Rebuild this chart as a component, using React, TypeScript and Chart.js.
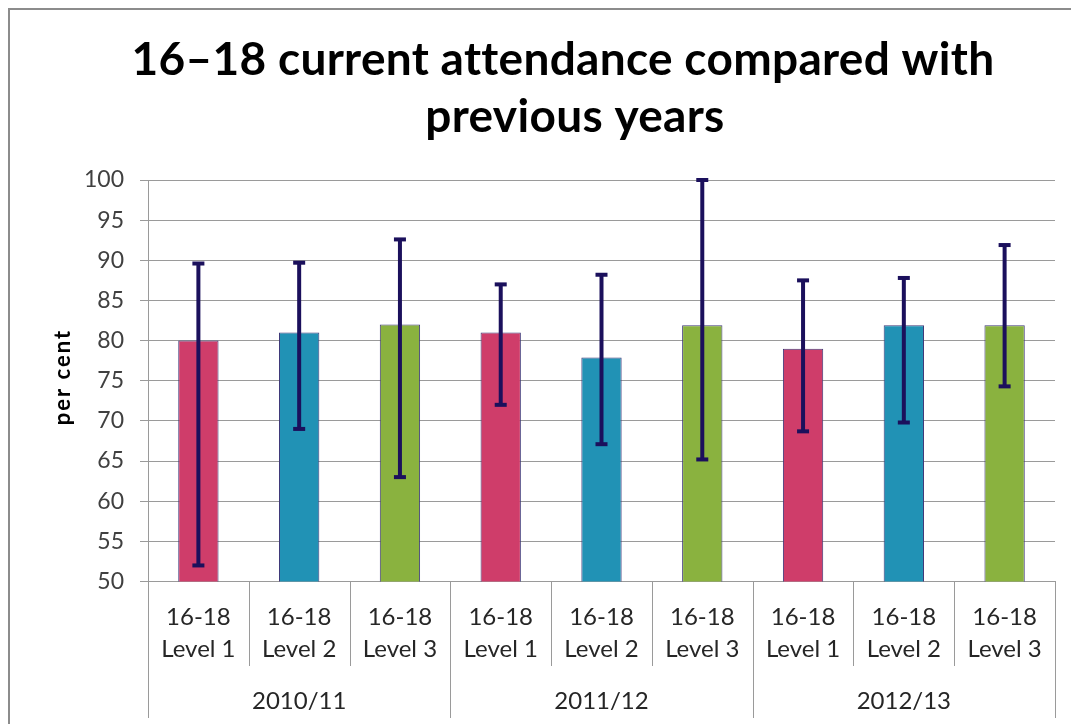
import React, { useEffect, useRef } from "react";
import { Chart, registerables } from "chart.js";

Chart.register(...registerables);

const title = ["16–18 current attendance compared with", "previous years"];
const yAxisTitle = "per cent";
const levelLines = [
  ["16-18", "Level 1"],
  ["16-18", "Level 2"],
  ["16-18", "Level 3"],
];
const groups = ["2010/11", "2011/12", "2012/13"];
const categories = ["L1 2010/11", "L2 2010/11", "L3 2010/11", "L1 2011/12", "L2 2011/12", "L3 2011/12", "L1 2012/13", "L2 2012/13", "L3 2012/13"];
const values = [80, 81, 82, 81, 77.9, 81.9, 79, 81.9, 81.9];
const errLow = [52, 69, 63, 72, 67.1, 65.2, 68.7, 69.8, 74.3];
const errHigh = [89.6, 89.7, 92.6, 87, 88.2, 100, 87.5, 87.8, 91.9];
const levelColors = ["#CF3D6A", "#2192B5", "#8AB23F"];

const FONT = "Lato, 'Open Sans', sans-serif";

const decorPlugin = {
  id: "decor",
  afterDatasetsDraw(chart: any) {
    const ctx = chart.ctx;
    const y = chart.scales.y;
    const meta = chart.getDatasetMeta(0);
    ctx.save();
    ctx.strokeStyle = "#1B105C";
    ctx.fillStyle = "#1B105C";
    ctx.lineWidth = 4;
    meta.data.forEach((bar: any, i: number) => {
      const x = bar.x;
      const yh = y.getPixelForValue(errHigh[i]);
      const yl = y.getPixelForValue(errLow[i]);
      ctx.beginPath();
      ctx.moveTo(x, yh);
      ctx.lineTo(x, yl);
      ctx.stroke();
      ctx.fillRect(x - 6, yh - 2, 12, 4);
      ctx.fillRect(x - 6, yl - 2, 12, 4);
    });
    ctx.restore();
  },
  afterDraw(chart: any) {
    const ctx = chart.ctx;
    const xs = chart.scales.x;
    const area = chart.chartArea;
    ctx.save();
    // frame
    ctx.strokeStyle = "#8C8C8C";
    ctx.lineWidth = 2;
    ctx.strokeRect(9, 9, 1200, 900);
    // title
    ctx.save();
    ctx.fillStyle = "#000";
    ctx.font = `bold 46px ${FONT}`;
    (ctx as any).letterSpacing = "0.3px";
    ctx.textAlign = "center";
    ctx.textBaseline = "alphabetic";
    ctx.fillText(title[0], 563, 75);
    ctx.fillText(title[1], 575, 132);
    ctx.restore();
    // y axis title
    ctx.save();
    ctx.fillStyle = "#000";
    ctx.translate(70, 377);
    ctx.rotate(-Math.PI / 2);
    ctx.font = `bold 22px ${FONT}`;
    (ctx as any).letterSpacing = "2px";
    ctx.textAlign = "center";
    ctx.textBaseline = "alphabetic";
    ctx.fillText(yAxisTitle, 0, 0);
    ctx.restore();
    // category axis lines
    ctx.strokeStyle = "#9A9A9A";
    ctx.lineWidth = 1;
    const n = categories.length;
    const bounds: number[] = [];
    for (let i = 0; i <= n; i++) {
      if (i === 0) bounds.push(area.left);
      else if (i === n) bounds.push(area.right);
      else bounds.push((xs.getPixelForValue(i - 1) + xs.getPixelForValue(i)) / 2);
    }
    bounds.forEach((bx, i) => {
      const xx = Math.round(bx) + 0.5;
      ctx.beginPath();
      ctx.moveTo(xx, area.bottom);
      ctx.lineTo(xx, i % 3 === 0 ? 718 : 666);
      ctx.stroke();
    });
    // category labels
    ctx.fillStyle = "#262626";
    ctx.font = `24px ${FONT}`;
    ctx.textAlign = "center";
    ctx.textBaseline = "middle";
    for (let i = 0; i < n; i++) {
      const cx = xs.getPixelForValue(i);
      const lines = levelLines[i % 3];
      ctx.fillText(lines[0], cx, 617);
      ctx.fillText(lines[1], cx, 649);
    }
    groups.forEach((g, gi) => {
      const cx = xs.getPixelForValue(gi * 3 + 1);
      ctx.fillText(g, cx, 701);
    });
    ctx.restore();
  },
};

export default function App() {
  const ref = useRef<HTMLCanvasElement | null>(null);
  useEffect(() => {
    if (!ref.current) return;
    const chart = new Chart(ref.current, {
      type: "bar",
      data: {
        labels: categories,
        datasets: [
          {
            data: values,
            backgroundColor: values.map((_, i) => levelColors[i % 3]),
            borderColor: "#3E3878",
            borderWidth: 1,
            barPercentage: 0.4,
            categoryPercentage: 1,
          },
        ],
      },
      options: {
        responsive: false,
        animation: false,
        layout: { padding: { top: 180, left: 9, right: 16, bottom: 0 } },
        plugins: { legend: { display: false }, tooltip: { enabled: false }, title: { display: false } },
        scales: {
          x: {
            grid: { display: false },
            ticks: { display: false },
            border: { display: true, color: "#9A9A9A" },
            afterFit: (s: any) => {
              s.height = 142.5;
            },
          },
          y: {
            min: 50,
            max: 100,
            ticks: {
              stepSize: 5,
              padding: 16,
              color: "#404040",
              font: { family: FONT, size: 23 },
            },
            grid: { color: "#9A9A9A", tickLength: 8, lineWidth: 1 },
            border: { display: true, color: "#9A9A9A" },
            afterFit: (s: any) => {
              s.width = 139;
            },
          },
        },
      },
      plugins: [decorPlugin],
    });
    return () => chart.destroy();
  }, []);
  return (
    <div style={{ position: "absolute", left: 0, top: 0, width: 1071, height: 724, background: "#fff" }}>
      <canvas ref={ref} width={1071} height={724} style={{ display: "block" }} />
    </div>
  );
}
